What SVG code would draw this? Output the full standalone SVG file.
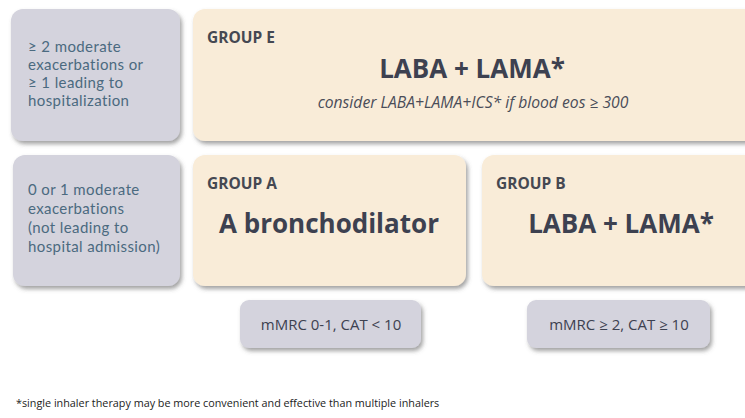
<svg xmlns="http://www.w3.org/2000/svg" width="745" height="418" viewBox="0 0 745 418">
<defs>
<filter id="sh" x="-10%" y="-10%" width="125%" height="130%">
<feDropShadow dx="2" dy="3" stdDeviation="2" flood-color="#555" flood-opacity="0.55"/>
</filter>
</defs>
<style>
.crit{fill:#d4d3dd;filter:url(#sh)}
.grp{fill:#f9ecd8;filter:url(#sh)}
.ct{font-family:Lato,"Open Sans",sans-serif;font-size:15px;letter-spacing:0.4px;fill:#4b6a80}
.gl{font-family:"Open Sans",sans-serif;font-size:15.5px;font-weight:bold;fill:#454852}
.big{font-family:"Open Sans",sans-serif;font-size:26px;font-weight:bold;fill:#3d4150;text-anchor:middle}
.sub{font-family:"Open Sans",sans-serif;font-size:15.7px;font-style:italic;fill:#4a4d58;text-anchor:middle}
.sym{font-family:"Open Sans",sans-serif;font-size:15px;fill:#3d4150;text-anchor:middle}
.fn{font-family:"Open Sans",sans-serif;font-size:10.8px;fill:#222}
</style>
<rect width="745" height="418" fill="#ffffff"/>
<g id="crit-high">
<rect class="crit" x="11" y="9" width="169" height="132" rx="12"/>
<text class="ct" x="28" y="52">≥ 2 moderate</text>
<text class="ct" x="28" y="70">exacerbations or</text>
<text class="ct" x="28" y="88">≥ 1 leading to</text>
<text class="ct" x="28" y="106">hospitalization</text>
</g>
<g id="group-e">
<rect class="grp" x="193" y="9" width="570" height="132" rx="12"/>
<text class="gl" x="207" y="43">GROUP E</text>
<text class="big" x="472" y="78">LABA + LAMA*</text>
<text class="sub" x="473" y="108">consider LABA+LAMA+ICS* if blood eos ≥ 300</text>
</g>
<g id="crit-low">
<rect class="crit" x="13" y="155" width="167" height="131" rx="12"/>
<text class="ct" x="28" y="195">0 or 1 moderate</text>
<text class="ct" x="28" y="214">exacerbations</text>
<text class="ct" x="28" y="233">(not leading to</text>
<text class="ct" x="28" y="252">hospital admission)</text>
</g>
<g id="group-a">
<rect class="grp" x="193" y="155" width="273" height="131" rx="12"/>
<text class="gl" x="207" y="189">GROUP A</text>
<text class="big" x="329" y="233">A bronchodilator</text>
</g>
<g id="group-b">
<rect class="grp" x="482" y="155" width="280" height="131" rx="12"/>
<text class="gl" x="496" y="189">GROUP B</text>
<text class="big" x="621" y="233">LABA + LAMA*</text>
</g>
<g id="sym-low">
<rect class="crit" x="240" y="300" width="181" height="48" rx="9"/>
<text class="sym" x="331" y="330">mMRC 0-1, CAT &lt; 10</text>
</g>
<g id="sym-high">
<rect class="crit" x="527" y="300" width="183" height="48" rx="9"/>
<text class="sym" x="619" y="330">mMRC ≥ 2, CAT ≥ 10</text>
</g>
<g id="connectors"/>
<text class="fn" x="16" y="407">*single inhaler therapy may be more convenient and effective than multiple inhalers</text>
</svg>
